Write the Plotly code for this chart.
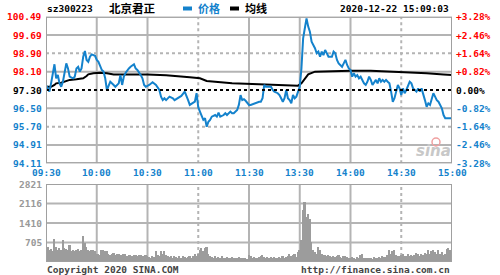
import plotly.graph_objects as go

# ---------------- data ----------------
symbol = "sz300223"
name = "北京君正"
stamp = "2020-12-22 15:09:03"
prev_close = 97.30
vol_max = 2821
time_labels = ["09:30", "10:00", "10:30", "11:00", "11:30", "13:30", "14:00", "14:30", "15:00"]
time_pos = [0, 30, 60, 90, 120, 150, 180, 210, 240]

price_min = [0, 2, 3, 4, 5, 6, 7, 8, 9, 10, 11, 12, 13, 14, 16, 17, 18, 19, 20, 21, 22, 23, 24, 25, 26, 27, 29, 30,
             31, 32, 33, 34, 35, 36, 37, 38, 40, 41, 43, 44, 45, 46, 47, 48, 49, 50, 52, 53, 54, 56, 57, 58, 59,
             61, 63, 65, 67, 68, 69, 70, 71, 73, 75, 76, 78, 80, 82, 83, 84, 85, 87, 88, 89, 90, 91, 92, 93, 94,
             95, 96, 97, 98, 100, 101, 102, 103, 105, 106, 107, 109, 110, 111, 113, 114, 115, 116, 117, 118, 119,
             120, 121, 123, 124, 126, 127, 128, 129, 130, 132, 133, 134, 135, 137, 138, 139, 140, 141, 142, 143,
             144, 145, 146, 147, 148, 149, 150, 151, 152, 153, 154, 155, 156, 157, 158, 159, 160, 161, 162, 163,
             164, 165, 166, 167, 169, 170, 171, 172, 173, 175, 176, 177, 178, 179, 180, 181, 182, 183, 184, 185,
             186, 187, 188, 189, 190, 191, 192, 193, 194, 195, 196, 197, 198, 199, 200, 201, 202, 203, 204, 205,
             206, 207, 208, 209, 210, 211, 212, 213, 214, 215, 216, 217, 218, 219, 220, 221, 222, 223, 224, 225,
             226, 227, 228, 229, 230, 231, 232, 233, 234, 235, 236, 237, 240]
price_val = [97.52, 97.23, 97.59, 98.10, 98.42, 97.81, 97.95, 97.59, 97.44, 97.66, 98.17, 98.46, 98.24, 97.88,
             97.81, 97.88, 98.24, 98.31, 98.10, 98.24, 98.75, 99.00, 98.61, 98.53, 98.75, 98.85, 98.79, 98.61,
             98.53, 98.31, 98.17, 98.10, 97.81, 97.30, 97.52, 97.66, 97.52, 97.44, 97.59, 97.95, 97.52, 97.88,
             98.04, 98.17, 98.24, 98.31, 98.42, 98.24, 98.17, 97.95, 97.81, 97.52, 97.44,
             97.52, 97.64, 97.52, 97.30, 97.01, 96.86, 96.94, 96.86, 97.01, 96.94, 96.86, 96.94, 97.04, 97.23,
             97.08, 96.86, 96.65, 96.72, 96.79, 97.16, 96.55, 96.36, 96.14, 96.00, 96.07,
             95.70, 95.92, 96.00, 96.14, 96.21, 96.14, 96.31, 96.14, 96.21, 96.29, 96.21, 96.36, 96.29, 96.29,
             96.43, 96.65, 97.08, 96.86, 96.90, 96.83, 96.72,
             96.65, 96.65, 96.72, 96.72, 96.79, 96.79, 96.94, 97.52, 97.44, 97.44, 97.44, 97.30, 97.23, 97.16,
             97.08, 96.94, 96.79, 96.94, 97.30, 96.94,
             96.86, 96.72, 97.08, 96.94, 97.01, 97.23, 97.44, 98.24, 99.55, 99.99, 100.42, 100.06, 99.84, 99.40,
             99.26, 99.12, 98.90, 98.97, 98.75, 98.97,
             98.82, 99.04, 98.90, 98.75, 98.75, 98.97, 98.90, 98.61, 98.46, 98.31, 98.46, 98.61, 98.39, 98.24,
             98.17, 97.88, 98.03, 97.88, 97.95, 97.81,
             97.88, 97.74, 97.59, 97.52, 97.66, 97.88, 97.74, 97.52, 97.66, 97.74, 97.59, 97.81, 97.66, 97.74,
             97.66, 97.74, 97.66, 97.59, 97.23, 96.79,
             96.94, 97.30, 97.52, 97.37, 97.08, 97.37, 97.16, 97.30, 97.52, 97.66, 97.59, 97.37, 97.30, 97.23,
             97.37, 97.23, 97.37, 97.16, 96.86, 96.57,
             96.72, 96.65, 96.94, 97.16, 97.01, 96.86, 96.79, 96.65, 96.50, 96.21, 96.07, 96.07, 96.07]

avg_min = [0, 3, 5, 6, 9, 11, 14, 18, 22, 24, 25, 28, 32, 36, 40, 60, 71, 85, 91, 95, 101, 110, 122,
           129, 149, 151, 153, 155, 159, 169, 180, 192, 209, 225, 235, 240]
avg_val = [97.44, 97.44, 97.52, 97.59, 97.62, 97.66, 97.74, 97.77, 97.81, 97.91, 97.98, 98.03, 98.05, 98.03,
           97.98, 97.98, 97.94, 97.85, 97.81, 97.69, 97.64, 97.59, 97.56,
           97.55, 97.49, 97.59, 97.81, 97.98, 98.10, 98.13, 98.14, 98.14, 98.10, 98.03, 97.98, 97.95]

volume = [1200, 560, 420, 480, 380, 840, 560, 430, 520, 450, 780, 520, 470, 420, 600, 400, 450, 380, 420, 460,
          380, 420, 930, 700, 560, 430, 380, 450, 420, 380,
          300, 280, 250, 440, 420, 400, 380, 300, 260, 280, 320, 260, 300, 280, 240, 260, 300, 280, 220, 240,
          260, 230, 250, 270, 220, 240, 260, 230, 210, 250,
          200, 180, 160, 220, 180, 380, 250, 220, 400, 300, 380, 260, 200, 180, 220, 160, 200, 180, 140, 200,
          160, 220, 180, 150, 190, 220, 160, 200, 300, 220,
          280, 450, 520, 380, 520, 560, 300, 200, 180, 160, 200, 150, 180, 160, 220, 150, 130, 180, 160, 150,
          190, 140, 160, 130, 170, 150, 140, 160, 150, 120,
          250, 200, 160, 180, 150, 140, 170, 230, 240, 180, 160, 170, 150, 180, 160, 170, 140, 150, 180, 160,
          200, 150, 170, 220, 280, 200, 260, 300, 180, 350,
          420, 785, 1870, 2170, 1630, 1750, 1570, 720, 420, 360, 300, 560, 420, 300, 260, 240, 220, 260, 200, 180,
          230, 180, 200, 240, 180, 160, 200, 220, 170, 150,
          140, 170, 150, 120, 180, 150, 250, 300, 160, 140, 130, 160, 150, 120, 170, 140, 150, 180, 160, 200,
          170, 190, 250, 420, 300, 380, 420, 260, 200, 220,
          250, 300, 220, 200, 280, 230, 260, 200, 240, 310, 280, 220, 300, 260, 330, 280, 420, 300, 380, 440,
          360, 300, 420, 280, 350, 250, 300, 480, 520, 420, 150]
vol_min = list(range(len(volume)))

# ---------------- style ----------------
RED = "#ff0000"
BLUE = "#1482cc"
BLACK = "#000000"
GRID = "#b4b4b4"
FRAME = "#a0a0a0"
VOLC = "#9c9c9c"
MONO = "DejaVu Sans Mono"

W, H = 500, 275
left_px, right_px = 46, 452
p_top, p_bot = 16.7, 163.3
v_top, v_bot = 184, 262


def py(px):
    return 1 - px / H


fig = go.Figure()

fig.add_trace(go.Bar(x=vol_min, y=volume, xaxis="x2", yaxis="y2", width=1.0,
                     marker=dict(color=VOLC, line=dict(width=0)), hoverinfo="skip"))
fig.add_trace(go.Scatter(x=avg_min, y=avg_val, mode="lines", line=dict(color=BLACK, width=2),
                         hoverinfo="skip"))
fig.add_trace(go.Scatter(x=price_min, y=price_val, mode="lines", line=dict(color=BLUE, width=2),
                         hoverinfo="skip"))

steps = [k * 0.0082 for k in range(-4, 5)]
p_lo = prev_close * (1 + steps[0])
p_hi = prev_close * (1 + steps[-1])

shapes = []
annotations = []

# price grid
for k, s in enumerate(steps):
    v = prev_close * (1 + s)
    if s == 0:
        continue
    dash = "dot" if abs(k - 4) == 2 else "solid"
    shapes.append(dict(type="line", xref="x", yref="y", x0=0, x1=240, y0=v, y1=v,
                       line=dict(color=GRID, width=2, dash=dash), layer="below"))
for t in time_pos[1:-1]:
    dash = "dot" if t in (90, 210) else "solid"
    shapes.append(dict(type="line", xref="x", yref="y", x0=t, x1=t, y0=p_lo, y1=p_hi,
                       line=dict(color=GRID, width=2, dash=dash), layer="below"))
    shapes.append(dict(type="line", xref="x2", yref="y2", x0=t, x1=t, y0=0, y1=vol_max,
                       line=dict(color=GRID, width=2, dash=dash), layer="below"))
for k in range(1, 4):
    v = vol_max * k / 4
    shapes.append(dict(type="line", xref="x2", yref="y2", x0=0, x1=240, y0=v, y1=v,
                       line=dict(color=GRID, width=2), layer="below"))
# prev close dotted line
shapes.append(dict(type="line", xref="x", yref="y", x0=0, x1=240, y0=prev_close, y1=prev_close,
                   line=dict(color=BLACK, width=2, dash="dot")))
# frames
shapes.append(dict(type="rect", xref="x", yref="y", x0=0, x1=240, y0=p_lo, y1=p_hi,
                   line=dict(color=FRAME, width=2)))
shapes.append(dict(type="rect", xref="x2", yref="y2", x0=0, x1=240, y0=0, y1=vol_max,
                   line=dict(color=FRAME, width=2)))

# price tick labels
for s in steps:
    v = prev_close * (1 + s)
    col = RED if s > 1e-9 else (BLUE if s < -1e-9 else BLACK)
    pct = "0.00%" if abs(s) < 1e-9 else f"{s * 100:+.2f}%"
    annotations.append(dict(x=(left_px - 2) / W, xref="paper", y=v, yref="y", text=f"{v:.2f}",
                            showarrow=False, xanchor="right", yanchor="middle",
                            font=dict(family=MONO, size=9.5, color=col, weight="bold")))
    annotations.append(dict(x=(right_px + 2) / W, xref="paper", y=v, yref="y", text=pct,
                            showarrow=False, xanchor="left", yanchor="middle",
                            font=dict(family=MONO, size=9.5, color=col, weight="bold")))

# volume tick labels
for k in range(1, 5):
    v = int(round(vol_max * k / 4))
    annotations.append(dict(x=(left_px - 2) / W, xref="paper", y=vol_max * k / 4, yref="y2",
                            text=str(v), showarrow=False, xanchor="right", yanchor="middle",
                            font=dict(family=MONO, size=9.5, color="#999999", weight="bold")))

# time labels
for t, lab in zip(time_pos, time_labels):
    annotations.append(dict(x=t, xref="x", y=py(172.5), yref="paper", text=lab, showarrow=False,
                            xanchor="center", yanchor="middle",
                            font=dict(family=MONO, size=9.5, color=BLUE, weight="bold")))

# header
annotations += [
    dict(x=45 / W, xref="paper", y=py(8.5), yref="paper", text=symbol, showarrow=False,
         xanchor="left", yanchor="middle", font=dict(family=MONO, size=9.5, color=BLACK, weight="bold")),
    dict(x=107 / W, xref="paper", y=py(8.5), yref="paper", text=name, showarrow=False,
         xanchor="left", yanchor="middle", font=dict(family="Noto Sans CJK SC", size=11.5, color=BLACK,
                                                    weight="bold")),
    dict(x=196 / W, xref="paper", y=py(8.5), yref="paper", text="价格", showarrow=False,
         xanchor="left", yanchor="middle", font=dict(family="Noto Sans CJK SC", size=11, color=BLUE,
                                                    weight="bold")),
    dict(x=243 / W, xref="paper", y=py(8.5), yref="paper", text="均线", showarrow=False,
         xanchor="left", yanchor="middle", font=dict(family="Noto Sans CJK SC", size=11, color=BLACK,
                                                    weight="bold")),
    dict(x=451 / W, xref="paper", y=py(8.5), yref="paper", text=stamp, showarrow=False,
         xanchor="right", yanchor="middle", font=dict(family=MONO, size=9.5, color=BLACK, weight="bold")),
    dict(x=45 / W, xref="paper", y=py(269), yref="paper", text="Copyright 2020 SINA.COM", showarrow=False,
         xanchor="left", yanchor="middle", font=dict(family=MONO, size=9.5, color="#444444", weight="bold")),
    dict(x=452 / W, xref="paper", y=py(269), yref="paper", text="http://finance.sina.com.cn",
         showarrow=False, xanchor="right", yanchor="middle",
         font=dict(family=MONO, size=9.5, color="#444444", weight="bold")),
    dict(x=433 / W, xref="paper", y=py(151), yref="paper", text="<i>sina</i>", showarrow=False,
         xanchor="center", yanchor="middle", font=dict(family="DejaVu Sans", size=15, color="#c8c8c8",
                                                      weight="bold")),
]
# legend swatches
shapes += [
    dict(type="line", xref="paper", yref="paper", x0=183 / W, x1=192 / W, y0=py(8.5), y1=py(8.5),
         line=dict(color=BLUE, width=4)),
    dict(type="line", xref="paper", yref="paper", x0=230 / W, x1=239 / W, y0=py(8.5), y1=py(8.5),
         line=dict(color=BLACK, width=4)),
    dict(type="circle", xref="paper", yref="paper", x0=432 / W, x1=440 / W, y0=py(146), y1=py(138),
         line=dict(color="#f0a0a0", width=1.5)),
]

fig.update_layout(
    width=W, height=H, margin=dict(l=0, r=0, t=0, b=0),
    paper_bgcolor="white", plot_bgcolor="white", showlegend=False, bargap=0,
    xaxis=dict(domain=[left_px / W, right_px / W], range=[0, 240], visible=False, fixedrange=True),
    yaxis=dict(domain=[py(p_bot), py(p_top)], range=[p_lo, p_hi], visible=False, fixedrange=True),
    xaxis2=dict(domain=[left_px / W, right_px / W], range=[0, 240], visible=False, anchor="y2",
                fixedrange=True),
    yaxis2=dict(domain=[py(v_bot), py(v_top)], range=[0, vol_max], visible=False, anchor="x2",
                fixedrange=True),
    shapes=shapes, annotations=annotations,
)

fig.write_html("out.html")
